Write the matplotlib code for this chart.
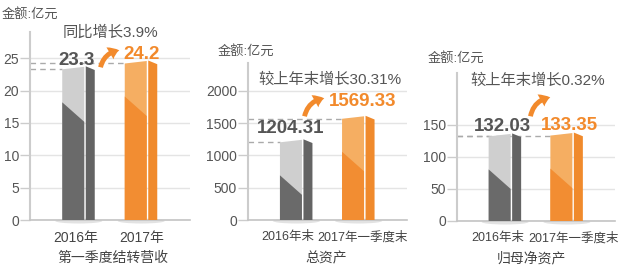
import matplotlib
matplotlib.use('Agg')
import matplotlib.pyplot as plt
from matplotlib.patches import Polygon, Ellipse, FancyArrowPatch

plt.rcParams['font.family'] = ['Liberation Sans', 'Noto Sans CJK SC']

# data
unit = '金额:亿元'
titles = ['同比增长3.9%', '较上年末增长30.31%', '较上年末增长0.32%']
names = ['第一季度结转营收', '总资产', '归母净资产']
cats = [['2016年', '2017年'], ['2016年末', '2017年一季度末'], ['2016年末', '2017年一季度末']]
vals = [[23.3, 24.2], [1204.31, 1569.33], [132.03, 133.35]]
labels = [['23.3', '24.2'], ['1204.31', '1569.33'], ['132.03', '133.35']]
yticks = [[0, 5, 10, 15, 20, 25], [0, 500, 1000, 1500, 2000], [0, 50, 100, 150]]
ymax = [29.07, 2434, 231]

# layout (pixels)
W, H = 620, 273
boxes = [(30, 32, 190, 220), (248, 63, 407, 220), (457, 73, 615, 221)]
unit_pos = [(2, 14), (218, 51), (428, 58)]
title_pos = [(110, 32), (330, 80), (538, 81)]
name_pos = [(113, 258), (326, 258), (531, 258)]
lab_off = [[(-2.5, 9), (0.5, 9)], [(-5.5, 14), (4, 17)], [(-2.5, 10), (2.5, 10)]]
tick_pos = [[-0.056, 1.0], [-0.136, 1.064], [-0.12, 1.104]]
tick_size = [10, 9, 9]
arrows = [((100, 70), (122, 50)), ((304, 119), (327, 98)), ((530, 119), (553, 97))]

light = ['#cfcfcf', '#f5ae62']
dark = ['#6a6a6a', '#f28d32']
side = ['#646464', '#f08a2c']
txtc = ['#555555', '#f28a2c']

fig = plt.figure(figsize=(W / 100, H / 100), dpi=100)


def fx(px):
    return px / W


def fy(py):
    return 1 - py / H


for i in range(3):
    l, t, r, b = boxes[i]
    ax = fig.add_axes([fx(l), fy(b), (r - l) / W, (b - t) / H])
    ax.set_xlim(-0.78, 1.78)
    ax.set_ylim(0, ymax[i])
    dx = 2.56 / (r - l)          # data units per pixel
    dy = ymax[i] / (b - t)

    for s in ['top', 'right']:
        ax.spines[s].set_visible(False)
    ax.spines['left'].set_color('#cccccc')
    ax.spines['left'].set_linewidth(1.5)
    ax.spines['bottom'].set_color('#c4c4c4')
    ax.spines['bottom'].set_linewidth(1.2)
    ax.set_yticks(yticks[i])
    ax.tick_params(axis='y', length=7, width=1, color='#cccccc', pad=1,
                   labelsize=10, labelcolor='#555555')
    ax.set_xticks(tick_pos[i])
    ax.set_xticklabels(cats[i])
    ax.tick_params(axis='x', length=0, pad=8, labelsize=tick_size[i], labelcolor='#444444')
    ax.yaxis.grid(True, color='#e4e4e4', lw=1)
    ax.set_axisbelow(True)

    for j in range(2):
        h = vals[i][j]
        x0 = j - 16.5 * dx
        x1 = x0 + 22 * dx
        x2 = x1 + 1.5 * dx
        x3 = x2 + 9 * dx
        # shadow
        ax.add_patch(Ellipse((j, -1 * dy), 47 * dx, 5 * dy, color='#e2e2e2',
                             zorder=2, clip_on=False, lw=0))
        # dashed guide
        ax.plot([-0.78, x0], [h, h], ls=(0, (4, 3)), color='#aaaaaa', lw=1, zorder=2)
        ax.add_patch(Polygon([(x0, 0), (x1, 0), (x1, h + 2.5 * dy), (x0, h)],
                             closed=True, fc=light[j], ec='none', zorder=3))
        ax.add_patch(Polygon([(x0, 0), (x1, 0), (x1, h + 2.5 * dy - 55 * dy), (x0, h - 33 * dy)],
                             closed=True, fc=dark[j], ec='none', zorder=4))
        ax.add_patch(Polygon([(x2, 0), (x3, 0), (x3, h - 0.7 * dy), (x2, h + 3 * dy)],
                             closed=True, fc=side[j], ec='none', zorder=3))
        ox, oy = lab_off[i][j]
        ax.annotate(labels[i][j], (j, h), xytext=(ox, oy), textcoords='offset pixels',
                    ha='center', va='center', fontsize=13.5, fontweight='bold',
                    color=txtc[j], zorder=6)

    fig.text(fx(unit_pos[i][0]), fy(unit_pos[i][1]), unit, ha='left', va='center',
             fontsize=9.5, color='#555555')
    fig.text(fx(title_pos[i][0]), fy(title_pos[i][1]), titles[i], ha='center', va='center',
             fontsize=11, color='#555555')
    fig.text(fx(name_pos[i][0]), fy(name_pos[i][1]), names[i], ha='center', va='center',
             fontsize=10, color='#444444')
    (ax_, ay_), (bx_, by_) = arrows[i]
    arr = FancyArrowPatch((fx(ax_), fy(ay_)), (fx(bx_), fy(by_)), transform=fig.transFigure,
                          arrowstyle='simple,head_length=7,head_width=10,tail_width=3.5',
                          connectionstyle='arc3,rad=-0.4', mutation_scale=1,
                          color='#f28a2c', lw=0)
    fig.patches.append(arr)

fig.savefig('out.png', dpi=100)
